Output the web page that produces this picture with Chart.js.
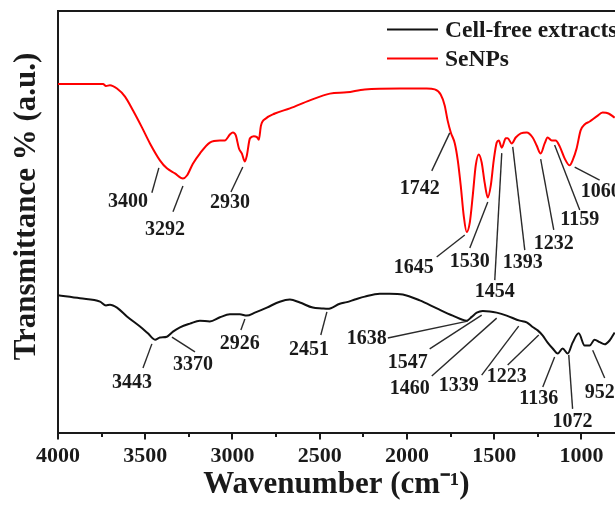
<!DOCTYPE html>
<html><head><meta charset="utf-8">
<script src="https://cdn.jsdelivr.net/npm/chart.js@4.4.0/dist/chart.umd.min.js"></script>
<style>html,body{margin:0;padding:0;background:#fff;overflow:hidden}canvas{display:block}</style>
</head><body>
<canvas id="c" width="615" height="505"></canvas>
<script>
const seriesNames = ['Cell-free extracts', 'SeNPs'];

const cellWavenumber = [4000,3874,3759,3725,3702,3662,3605,3530,3485,3444,3416,3376,3341,3301,3244,3187,3130,3072,3015,2958,2918,2872,2803,2729,2671,2614,2540,2488,2454,2385,2345,2299,2242,2156,2099,2024,1927,1829,1738,1658,1629,1600,1566,1526,1486,1429,1354,1314,1280,1251,1223,1194,1165,1136,1108,1079,1051,1016,982,953,925,896,867,839,810];
const cellTransmittance = [32.5,31.8,31.0,30.1,30.3,29.6,27.5,25.1,23.5,22.0,22.5,22.7,23.9,24.9,25.8,26.5,26.3,27.3,28.0,28.0,27.7,28.4,29.6,31.0,31.5,30.8,29.6,29.4,29.3,30.5,30.9,31.5,32.2,32.9,32.9,32.7,31.3,29.4,27.7,26.5,27.4,28.4,28.8,28.7,28.4,27.7,26.5,26.1,25.0,24.2,23.0,21.3,19.9,18.7,19.9,18.7,21.3,23.5,20.6,20.6,22.0,21.4,20.9,21.8,23.7];

const senpWavenumber = [4000,3874,3742,3725,3702,3662,3616,3570,3519,3473,3416,3376,3330,3284,3261,3227,3187,3130,3072,3044,3015,2998,2981,2963,2946,2929,2918,2900,2878,2860,2849,2837,2809,2757,2671,2557,2442,2345,2242,2041,1887,1841,1807,1784,1767,1749,1726,1709,1692,1675,1658,1640,1623,1606,1589,1572,1555,1537,1520,1503,1486,1474,1457,1434,1423,1400,1377,1348,1314,1280,1257,1234,1211,1194,1171,1148,1125,1096,1068,1051,1028,1005,982,953,913,879,845,810];
const senpTransmittance = [82.6,82.6,82.6,82.1,82.3,81.5,79.6,76.3,72.3,68.5,64.5,62.6,61.4,60.2,60.9,63.7,66.1,68.7,69.2,69.2,70.6,71.1,70.4,67.3,66.1,64.2,65.6,69.7,70.2,70.0,69.4,72.7,74.4,75.6,76.8,78.7,80.3,80.6,81.3,81.5,81.5,81.3,80.1,77.5,73.9,71.1,68.5,64.5,58.5,51.4,47.5,49.8,56.2,63.3,65.9,64.0,59.2,55.7,58.5,64.5,68.7,69.2,67.5,69.7,69.7,68.5,69.9,70.9,71.1,69.9,68.0,66.1,68.5,69.9,69.2,69.2,67.8,64.9,63.3,64.5,67.3,71.6,73.0,73.7,74.9,75.8,75.6,74.6];

const xMajorTicks = [4000,3500,3000,2500,2000,1500,1000];
const xTickLabels = ['4000','3500','3000','2500','2000','1500','1000'];
const xMinorTicks = [3750,3250,2750,2250,1750,1250];

// [label, leader start (wn, T), leader end (wn, T), label centre (wn, T)]
const senpPeaks = [
  ['3400', 3422,62.7, 3462,56.8, 3599,54.6],
  ['3292', 3284,58.4, 3341,52.3, 3387,48.0],
  ['2930', 2941,62.9, 3009,57.0, 3015,54.4],
  ['1742', 1755,71.0, 1858,62.0, 1927,57.7],
  ['1645', 1669,46.8, 1830,41.6, 1961,39.0],
  ['1530', 1537,54.6, 1640,43.7, 1640,40.4],
  ['1454', 1457,66.2, 1497,36.1, 1497,33.3],
  ['1393', 1394,67.7, 1325,43.2, 1337,40.2],
  ['1232', 1234,64.8, 1159,48.0, 1159,44.7],
  ['1159', 1154,68.1, 1010,52.7, 1010,50.4],
  ['1060', 1039,62.9, 896,59.8, 890,57.0]
];
const cellPeaks = [
  ['3443', 3462,21.0, 3513,15.3, 3576,11.7],
  ['3370', 3347,22.6, 3215,19.1, 3227,16.0],
  ['2926', 2929,26.9, 2952,24.3, 2958,21.0],
  ['2451', 2459,28.6, 2494,23.1, 2562,19.5],
  ['1638', 1652,26.4, 2110,22.4, 2230,22.2],
  ['1547', 1572,27.8, 1870,19.8, 1996,16.5],
  ['1460', 1486,27.1, 1858,13.4, 1984,10.3],
  ['1339', 1360,25.2, 1572,13.6, 1703,11.0],
  ['1223', 1245,23.1, 1423,16.0, 1429,13.2],
  ['1136', 1154,17.9, 1222,10.8, 1245,7.9],
  ['1072', 1073,18.4, 1051,5.6, 1051,2.5],
  ['952', 936,19.5, 867,12.9, 896,9.4]
];

const FONT = '"Liberation Serif", "Times New Roman", Times, serif';
const INK = '#1a1a1a';

const minorTickPlugin = {
  id: 'minorTicks',
  afterDraw(chart) {
    const {ctx, scales: {x}, chartArea: a} = chart;
    ctx.save();
    ctx.strokeStyle = INK; ctx.lineWidth = 2;
    xMinorTicks.forEach(v => {
      const px = Math.round(x.getPixelForValue(v));
      ctx.beginPath(); ctx.moveTo(px, a.bottom); ctx.lineTo(px, a.bottom + 4.5); ctx.stroke();
    });
    ctx.restore();
  }
};

const peakPlugin = {
  id: 'peaks',
  afterDatasetsDraw(chart) {
    const {ctx, scales: {x, y}} = chart;
    ctx.save();
    ctx.strokeStyle = '#2a2a2a'; ctx.lineWidth = 1.4;
    ctx.fillStyle = INK;
    ctx.font = 'bold 20px ' + FONT;
    ctx.textAlign = 'center'; ctx.textBaseline = 'middle';
    [...senpPeaks, ...cellPeaks].forEach(([t, x1, y1, x2, y2, tx, ty]) => {
      ctx.beginPath();
      ctx.moveTo(x.getPixelForValue(x1), y.getPixelForValue(y1));
      ctx.lineTo(x.getPixelForValue(x2), y.getPixelForValue(y2));
      ctx.stroke();
      ctx.fillText(t, x.getPixelForValue(tx), y.getPixelForValue(ty));
    });
    ctx.restore();
  }
};

const legendPlugin = {
  id: 'cornerLegend',
  afterDraw(chart) {
    const {ctx, chartArea: a} = chart;
    ctx.save();
    ctx.font = 'bold 23.5px ' + FONT;
    ctx.textAlign = 'left'; ctx.textBaseline = 'middle';
    chart.data.datasets.forEach((ds, i) => {
      const yy = a.top + 19 + i * 29;
      ctx.strokeStyle = ds.borderColor; ctx.lineWidth = 2;
      ctx.beginPath(); ctx.moveTo(a.left + 329, yy); ctx.lineTo(a.left + 380, yy); ctx.stroke();
      ctx.fillStyle = INK;
      ctx.fillText(ds.label, a.left + 387, yy + 1);
    });
    ctx.restore();
  }
};

const yTitlePlugin = {
  id: 'yTitle',
  afterDraw(chart) {
    const {ctx, chartArea: a} = chart;
    ctx.save();
    ctx.translate(a.left - 31, (a.top + a.bottom) / 2 - 15);
    ctx.rotate(-Math.PI / 2);
    ctx.font = 'bold 31px ' + FONT;
    ctx.fillStyle = INK;
    ctx.textAlign = 'center'; ctx.textBaseline = 'middle';
    ctx.fillText('Transmittance % (a.u.)', 0, 0);
    ctx.restore();
  }
};

const toPoints = (xs, ys) => xs.map((w, i) => ({x: w, y: ys[i]}));

new Chart(document.getElementById('c'), {
  type: 'line',
  data: {
    datasets: [
      { label: seriesNames[0], data: toPoints(cellWavenumber, cellTransmittance), borderColor: '#111111', borderWidth: 2, pointRadius: 0, cubicInterpolationMode: 'monotone', fill: false },
      { label: seriesNames[1], data: toPoints(senpWavenumber, senpTransmittance), borderColor: '#ff0000', borderWidth: 2, pointRadius: 0, cubicInterpolationMode: 'monotone', fill: false }
    ]
  },
  options: {
    responsive: false,
    animation: false,
    events: [],
    layout: { padding: { top: 10.5, right: 0, bottom: 0, left: 0 } },
    plugins: { legend: { display: false }, tooltip: { enabled: false } },
    scales: {
      x: {
        type: 'linear', position: 'bottom', reverse: true, min: 808, max: 4000,
        afterBuildTicks: s => { s.ticks = xMajorTicks.map(v => ({value: v})); },
        afterFit: s => { s.height = 72.5; },
        ticks: {
          autoSkip: false, maxRotation: 0, padding: 4, color: INK,
          font: { family: FONT, size: 22, weight: 'bold' },
          callback: v => { const i = xMajorTicks.indexOf(v); return i >= 0 ? xTickLabels[i] : ''; }
        },
        grid: { display: true, drawOnChartArea: false, drawTicks: true, tickLength: 7, lineWidth: 2, tickColor: INK },
        border: { display: true, width: 2, color: INK },
        title: { display: true, text: 'Wavenumber (cm⁻¹)', color: INK, font: { family: FONT, size: 31, weight: 'bold' }, padding: { top: 0, bottom: 1 } }
      },
      xTop: {
        type: 'linear', position: 'top', reverse: true, min: 808, max: 4000,
        ticks: { display: false }, grid: { display: false, drawTicks: false },
        border: { display: true, width: 2, color: INK }
      },
      y: {
        type: 'linear', position: 'left', min: 0, max: 100,
        ticks: { display: false }, grid: { display: false, drawTicks: false },
        border: { display: true, width: 2, color: INK },
        afterFit: s => { s.width = 58; }
      }
    }
  },
  plugins: [minorTickPlugin, peakPlugin, legendPlugin, yTitlePlugin]
});
</script>
</body></html>
